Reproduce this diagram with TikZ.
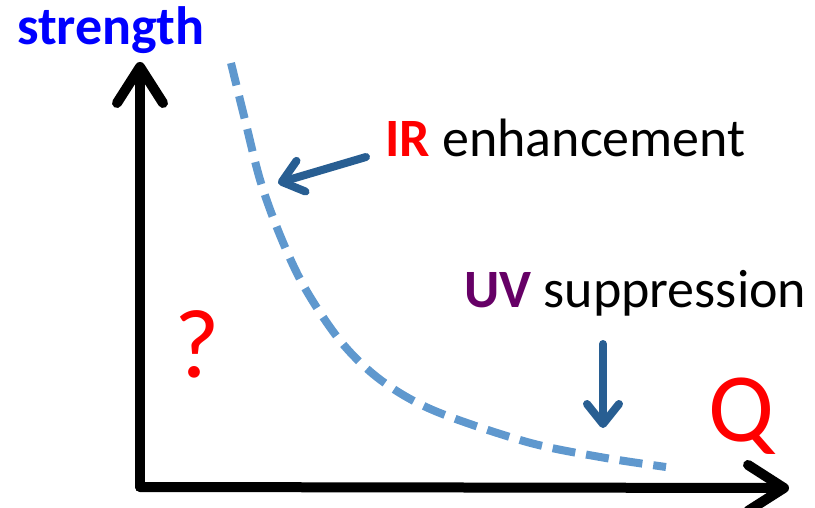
\documentclass[tikz,border=0pt]{standalone}
\usepackage{fontspec}
\setmainfont{Carlito}
\usetikzlibrary{arrows.meta}
\definecolor{curveblue}{RGB}{95,152,206}
\definecolor{arrowblue}{RGB}{40,94,146}
\definecolor{uvpurple}{RGB}{102,0,102}
\begin{document}
\begin{tikzpicture}[x=1pt,y=-1pt,
  axisline/.style={line width=10pt, line cap=round, line join=round,
    -{Straight Barb[length=36pt,width=46pt,round]}},
  pointer/.style={line width=8pt, color=arrowblue, line cap=round,
    -{Straight Barb[length=20pt,width=32pt,round]}},
  curve/.style={line width=8pt, color=curveblue, dash pattern=on 23pt off 11pt},
  lbl/.style={inner sep=0pt, anchor=base west, font=\fontsize{54}{54}\selectfont},
  big/.style={inner sep=0pt, anchor=base west, text=red, font=\fontsize{98}{98}\selectfont}]
\useasboundingbox (0,0) rectangle (815,508);
\coordinate (O) at (140,487);
\coordinate (ytip) at (140,62);
\coordinate (xtip) at (789,488);
\draw[axisline] (O) -- (ytip);
\draw[axisline] (O) -- (xtip);
\draw[curve] plot[smooth, tension=0.55] coordinates {(231,63) (245,120) (261,183) (282,240) (306,290) (342,343) (382,381) (435,411) (527,442) (600,457) (666,467)};
\node[lbl, text=blue, font=\fontsize{54}{54}\selectfont\bfseries] (str) at (17,45) {strength};
\node[lbl] (ir) at (385,157) {\textcolor{red}{\textbf{IR}} enhancement};
\node[lbl] (uv) at (464,307) {\textcolor{uvpurple}{\textbf{UV}} suppression};
\node[big] (q) at (708,441) {Q};
\node[big] (qm) at (174,377) {?};
\coordinate (irs) at (366,157);
\coordinate (irt) at (278,183);
\coordinate (uvs) at (603,344);
\coordinate (uvt) at (603,428);
\draw[pointer] (irs) -- (irt);
\draw[pointer] (uvs) -- (uvt);
\end{tikzpicture}
\end{document}
